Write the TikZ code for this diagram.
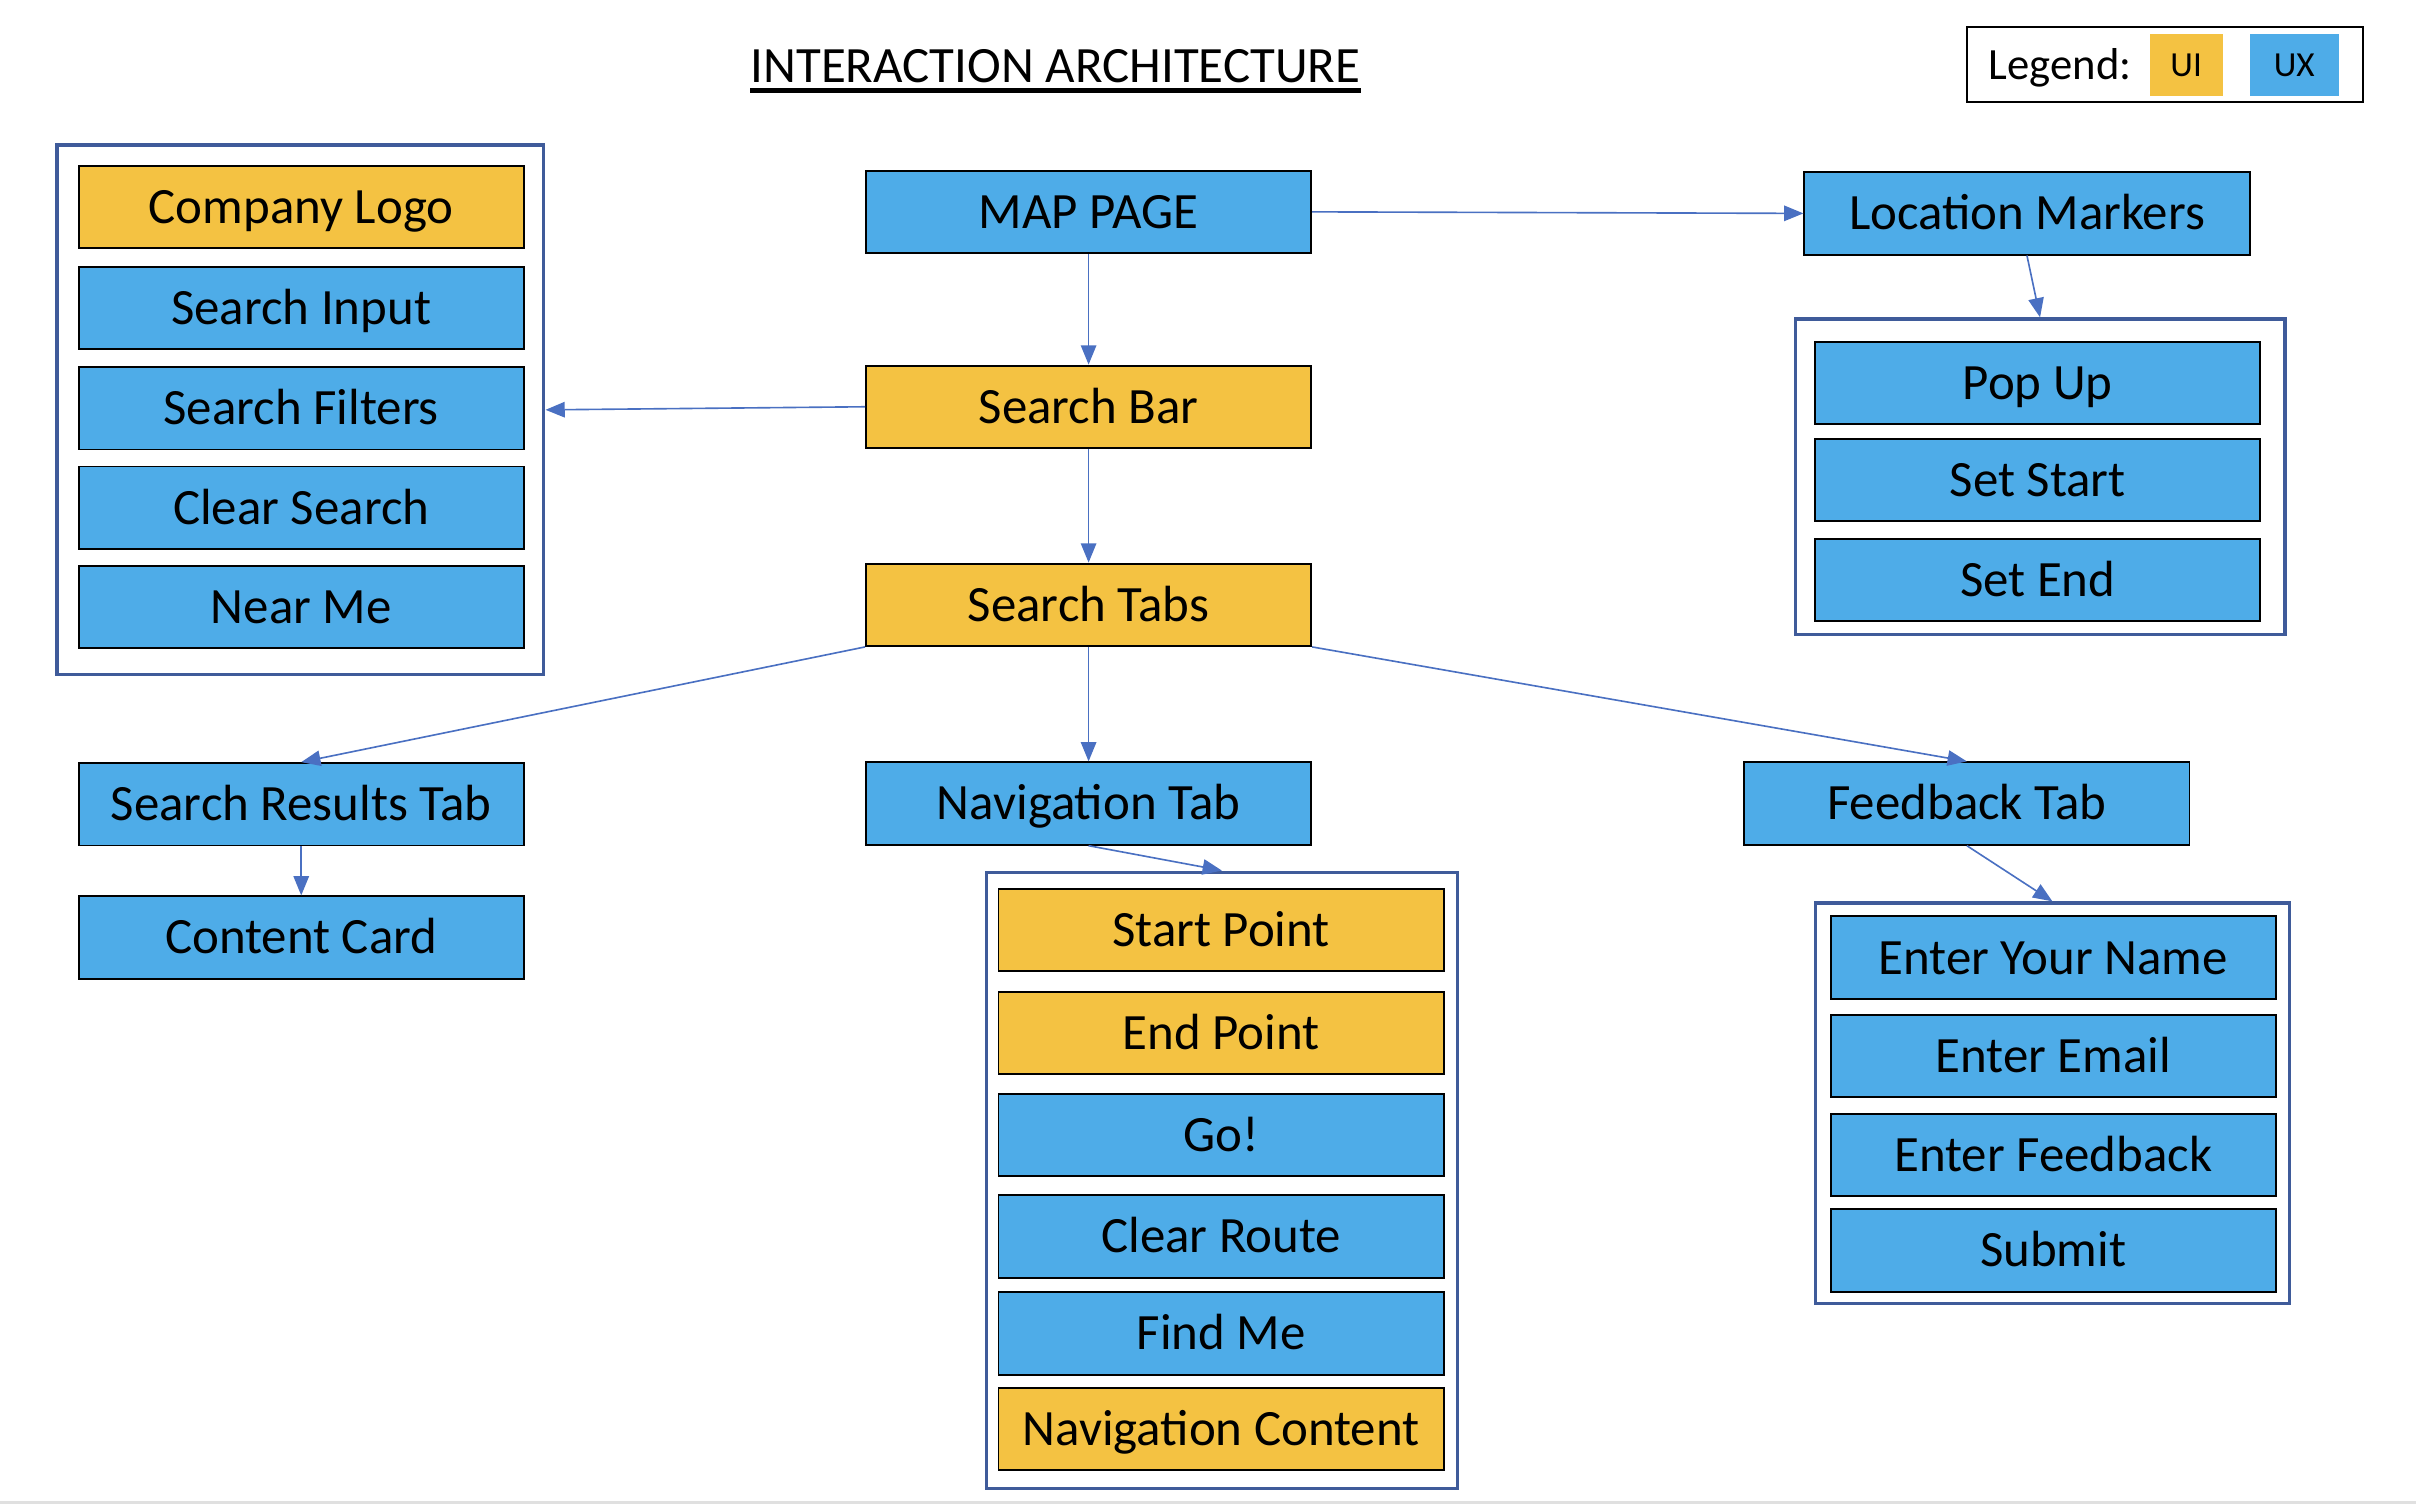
\documentclass[tikz,border=0pt]{standalone}
\usepackage{fontspec}
\setmainfont{Carlito}
\usetikzlibrary{arrows.meta}
\definecolor{uiyellow}{HTML}{F4C242}
\definecolor{uxblue}{HTML}{4EACE8}
\definecolor{grpblue}{HTML}{3F5B9A}
\definecolor{linkblue}{HTML}{4A70C2}

\begin{document}
\begin{tikzpicture}[x=0.02cm,y=-0.02cm,
  itembox/.style={draw=black,line width=0.7pt,minimum width=5.78cm,minimum height=1.07cm,
    inner sep=0pt,font=\fontsize{18.8}{22}\selectfont,text height=12.1pt,text depth=0pt},
  ui/.style={itembox,fill=uiyellow},
  ux/.style={itembox,fill=uxblue},
  grp/.style={draw=grpblue,line width=1.2pt,inner sep=0pt},
  link/.style={draw=linkblue,line width=0.6pt,-{Triangle[length=0.25cm,width=0.2cm]}}]
\useasboundingbox (0,0) rectangle (1568,976);
\fill[black!12] (0,974) rectangle (1568,976);
% title
\node[inner sep=0pt,font=\fontsize{18.8}{22}\selectfont,text height=12.1pt,text depth=0pt]
  (title) at (685,42.8) {INTERACTION ARCHITECTURE};
\draw[line width=1.6pt] ([yshift=-0.1cm]title.south west) -- ([yshift=-0.1cm]title.south east);
% legend
\node[draw=black,line width=0.8pt,minimum width=5.14cm,minimum height=0.98cm] (legend) at (1405,41.8) {};
\node[inner sep=0pt,font=\fontsize{16.5}{20}\selectfont,text height=10.6pt,text depth=0pt]
  (legtxt) at (1337,42) {Legend:};
\node[fill=uiyellow,minimum width=0.95cm,minimum height=0.8cm,inner sep=0pt,
  font=\fontsize{13}{15}\selectfont,text height=8.4pt,text depth=0pt] (legui) at (1418.8,42) {UI};
\node[fill=uxblue,minimum width=1.16cm,minimum height=0.8cm,inner sep=0pt,
  font=\fontsize{13}{15}\selectfont,text height=8.4pt,text depth=0pt] (legux) at (1489,42) {UX};
% left group
\node[grp,minimum width=6.32cm,minimum height=6.88cm] (leftgrp) at (195,266) {};
\node[ui] (logo) at (195.5,134.5) {Company Logo};
\node[ux] (input) at (195.5,200) {Search Input};
\node[ux] (filters) at (195.5,265) {Search Filters};
\node[ux] (clear) at (195.5,329.5) {Clear Search};
\node[ux] (nearme) at (195.5,394) {Near Me};
% centre column
\node[ux] (map) at (706.5,137.5) {MAP PAGE};
\node[ui] (bar) at (706.5,264) {Search Bar};
\node[ui] (tabs) at (706.5,392.5) {Search Tabs};
% markers group
\node[ux] (markers) at (1315.5,138.5) {Location Markers};
\node[grp,minimum width=6.36cm,minimum height=4.1cm] (markgrp) at (1324,309.5) {};
\node[ux] (popup) at (1322.5,248.5) {Pop Up};
\node[ux] (setstart) at (1322.5,311.5) {Set Start};
\node[ux] (setend) at (1322.5,376.5) {Set End};
% tabs
\node[ux] (results) at (195.5,522) {Search Results Tab};
\node[ux] (card) at (195.5,608.5) {Content Card};
\node[ux] (navtab) at (706.5,521.5) {Navigation Tab};
\node[ux] (fbtab) at (1276.5,521.5) {Feedback Tab};
% navigation group
\node[grp,minimum width=6.12cm,minimum height=8cm] (navgrp) at (793,766) {};
\node[ui] (startpt) at (792.5,603.5) {Start Point};
\node[ui] (endpt) at (792.5,670.5) {End Point};
\node[ux] (go) at (792.5,736.5) {Go!};
\node[ux] (clrroute) at (792.5,802.5) {Clear Route};
\node[ux] (findme) at (792.5,865.5) {Find Me};
\node[ui] (navcontent) at (792.5,927.5) {Navigation Content};
% feedback group
\node[grp,minimum width=6.16cm,minimum height=5.2cm] (fbgrp) at (1332,716) {};
\node[ux] (name) at (1332.5,621.5) {Enter Your Name};
\node[ux] (email) at (1332.5,685.5) {Enter Email};
\node[ux] (feedback) at (1332.5,749.5) {Enter Feedback};
\node[ux] (submit) at (1332.5,811.5) {Submit};
% links
\draw[link] (map.east) -- (markers.west);
\draw[link] (map.south) -- (bar.north);
\draw[link] (bar.west) -- (leftgrp.east);
\draw[link] (bar.south) -- (tabs.north);
\draw[link] (markers.south) -- (markgrp.north);
\draw[link] (tabs.south west) -- (results.north);
\draw[link] (tabs.south) -- (navtab.north);
\draw[link] (tabs.south east) -- (fbtab.north);
\draw[link] (results.south) -- (card.north);
\draw[link] (navtab.south) -- (navgrp.north);
\draw[link] (fbtab.south) -- (fbgrp.north);
\end{tikzpicture}
\end{document}
